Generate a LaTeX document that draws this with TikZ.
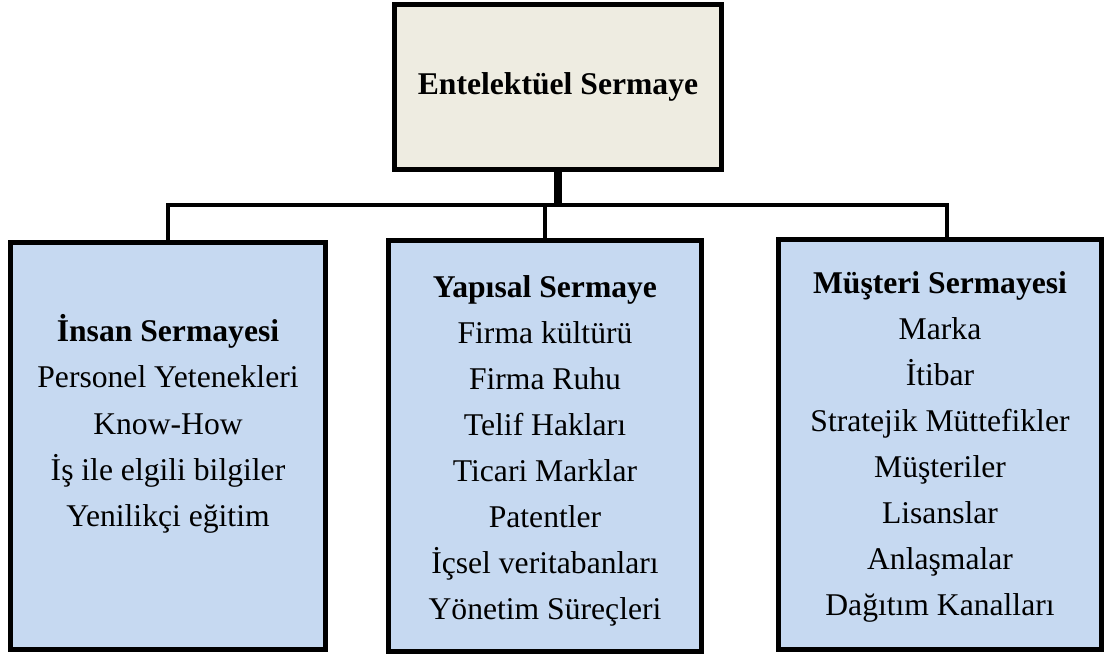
\documentclass[tikz,border=0pt]{standalone}
\usepackage{fontspec}
\setmainfont{Liberation Serif}
\usetikzlibrary{positioning}
\definecolor{beige}{HTML}{EEECE1}
\definecolor{lightblue}{HTML}{C6D9F1}

\begin{document}
\begin{tikzpicture}[topbox/.style={rectangle,draw,line width=2.6pt,fill=beige,minimum width=6.55cm,minimum height=3.31cm,font=\fontsize{18}{22}\selectfont\bfseries},bluebox/.style={rectangle,draw,line width=2.6pt,fill=lightblue},itemtext/.style={align=center,inner sep=0pt,font=\fontsize{18}{26.2}\selectfont},linkline/.style={line width=2.6pt},stemline/.style={line width=5pt}]
		\useasboundingbox (0,0) rectangle (22.12,13.14);
		\node [topbox] (es) at (11.16, 11.4) {Entelektüel Sermaye};
		\node [bluebox, minimum width=6.31cm, minimum height=8.15cm] (insan) at (3.36, 4.22) {};
		\node [bluebox, minimum width=6.27cm, minimum height=8.23cm] (yapisal) at (10.9, 4.22) {};
		\node [bluebox, minimum width=6.47cm, minimum height=8.21cm] (musteri) at (18.8, 4.25) {};
		% box contents
		\node [itemtext, below=1.49cm of insan.north] (insantext) {\textbf{İnsan Sermayesi}\\Personel Yetenekleri\\Know-How\\İş ile elgili bilgiler\\Yenilikçi eğitim};
		\node [itemtext, below=0.74cm of yapisal.north] (yapisaltext) {\textbf{Yapısal Sermaye}\\Firma kültürü\\Firma Ruhu\\Telif Hakları\\Ticari Marklar\\Patentler\\İçsel veritabanları\\Yönetim Süreçleri};
		\node [itemtext, below=0.68cm of musteri.north] (musteritext) {\textbf{Müşteri Sermayesi}\\Marka\\İtibar\\Stratejik Müttefikler\\Müşteriler\\Lisanslar\\Anlaşmalar\\Dağıtım Kanalları};
		% connectors
		\coordinate (bar) at (11.16, 9.04);
		\draw[stemline] (es.south) -- (bar);
		\draw[linkline] (insan.north) |- (bar) -| ([xshift=0.14cm]musteri.north);
		\draw[linkline] (bar -| yapisal.north) -- (yapisal.north);
	\end{tikzpicture}
\end{document}
